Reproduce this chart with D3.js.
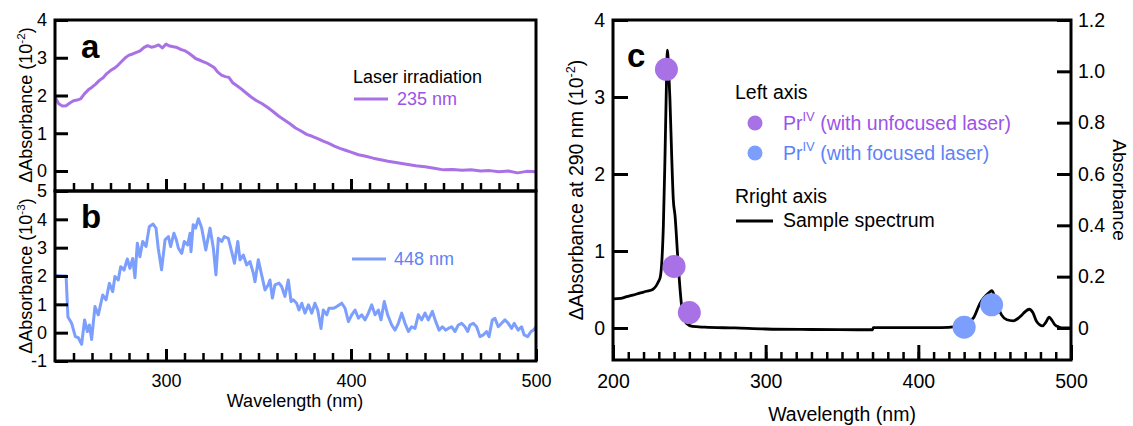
<!DOCTYPE html>
<html>
<head>
<meta charset="utf-8">
<script src="https://cdn.jsdelivr.net/npm/d3@7"></script>
<style>
  body { margin: 0; background: #fff; }
  svg { display: block; font-family: "Liberation Sans", Arial, sans-serif; }
</style>
</head>
<body>
<svg id="chart"></svg>
<script>
// panel a: 235 nm irradiation, ΔAbsorbance in 10^-2
const aWave = [240,242,244,246,248,250,252,254,256,258,260,262,264,266,268,270,272,274,276,278,
  280,282,284,286,288,290,292,294,296,298,300,302,304,306,308,310,312,314,316,318,320,322,324,326,328,
  330,332,334,336,338,340,343,346,349,352,355,358,361,364,367,370,373,376,379,382,385,388,391,394,397,
  400,404,408,412,416,420,425,430,435,440,445,450,455,460,465,470,475,480,485,490,495,500];
const aVal = [1.96,1.78,1.72,1.73,1.80,1.86,1.88,1.92,2.05,2.15,2.22,2.30,2.40,2.47,2.58,2.66,2.72,2.80,2.90,3.00,
  3.07,3.10,3.14,3.18,3.27,3.32,3.28,3.30,3.34,3.26,3.36,3.31,3.29,3.27,3.22,3.19,3.13,3.06,2.98,2.94,2.90,2.86,2.80,2.74,2.62,
  2.54,2.50,2.48,2.34,2.27,2.20,2.08,1.96,1.86,1.78,1.68,1.57,1.45,1.35,1.25,1.14,1.06,0.97,0.92,0.86,0.79,0.73,0.66,0.60,0.55,
  0.50,0.43,0.39,0.34,0.30,0.26,0.22,0.18,0.14,0.11,0.07,0.03,0.04,0.02,0.03,0.00,0.01,-0.02,0.00,-0.05,-0.01,-0.02];

// panel b: 448 nm irradiation, ΔAbsorbance in 10^-3
const bWave = [240,241,244,246,247,249,251,252.6,254.4,256,257.5,258.6,259.8,261.6,263.4,265.8,267.6,269.4,271.2,272.4,
  274.2,275.5,277.3,279.1,280.5,282,283.2,284.5,285.9,287.4,289.2,291,293,294.6,295.8,297.6,299.5,301.3,302.5,304.3,
  305.5,306.7,308.5,309.9,311.7,313,313.5,314.7,316,317.5,319.3,321.5,323.8,325.6,327,328.3,330.1,331.5,333.7,335.5,
  337,338.8,340,341.8,343.6,345.4,347.2,348.1,349.9,351.7,353.5,355.3,356.2,357.5,358.9,361.1,362.5,364.3,366.1,367.6,
  368.8,370.6,371.9,373.4,375.1,377,378.8,380.5,382,383.8,385,386.9,388.1,390.4,392.3,395,396.8,398.6,400.4,402.2,
  404,405.8,407.6,409.4,411.2,413,414.8,416.2,418,419.8,422,423.8,425.6,427.4,429.2,431,432.8,434.6,436.4,438.2,
  440,441.8,444,445.8,447.6,449.4,451.2,452.6,454.4,456.2,458,459.8,461.6,463.1,464.3,466.1,467.9,469.7,471.5,473.3,
  474.6,476.4,477.8,479.6,481.4,483.2,485,486.8,488.2,490.3,492.2,493.6,495.5,497.3,498.6,500];
const bVal = [2.0,2.02,2.0,2.0,0.55,0.33,-0.14,-0.18,-0.41,0.45,0.04,0.27,-0.24,0.92,0.63,1.33,1.16,1.74,1.45,1.98,
  1.86,2.33,2.21,2.6,2.27,2.62,1.94,3.16,2.68,3.22,3.04,3.75,3.83,3.69,2.98,2.22,3.28,3.39,3.04,3.51,
  3.3,2.98,2.8,3.22,3.1,3.51,2.86,3.81,3.69,4.02,3.69,2.92,3.69,2.98,2.04,3.33,3.22,3.39,3.33,2.86,
  2.45,3.22,2.57,2.74,2.39,2.51,2.1,1.8,2.57,2.04,1.51,1.69,1.86,1.22,1.69,1.75,1.63,1.28,1.86,1.1,
  1.16,1.04,0.8,1.04,0.69,0.98,0.69,1.04,0.8,0.15,0.8,0.63,0.86,0.86,0.92,1.04,0.86,0.39,0.63,0.8,
  0.51,0.63,0.45,0.69,0.98,0.63,0.8,0.45,1.1,0.63,0.27,0.09,0.33,0.69,0.33,0.04,0.21,0.15,0.63,0.45,
  0.69,0.45,0.75,0.39,0.09,0.21,0.09,0.15,0.21,0.04,0.27,0.33,0.21,0.04,0.27,0.33,0.21,-0.14,-0.08,0.04,
  -0.14,0.45,0.51,0.21,0.33,0.45,0.33,0.15,0.33,0.09,0.21,-0.08,-0.14,0.04,0.09,0.2];

// panel c: sample spectrum (right axis, absorbance)
const cWave = [200,205,209,213,218,222,226,229.7,231,232,233,234,235,235.6,236.5,237.3,238.5,239.5,240.6,242.8,
  245,248,252,260,280,300,330,360,370,370.5,390,410,420,423,430,436,440.4,443,445.8,448.2,451.3,454.6,458,462.2,
  465,467.7,470,472.7,475,477.5,481.4,483.5,485.7,487.5,489.5,492,495,500];
const cAbs = [0.113,0.115,0.122,0.128,0.137,0.143,0.150,0.180,0.20,0.26,0.40,0.65,0.95,1.083,1.00,0.89,0.66,0.50,0.44,0.24,
  0.084,0.018,0.006,0.003,0.0,-0.004,-0.006,-0.007,-0.007,0.001,0.001,0.001,0.002,0.004,0.015,0.038,0.096,0.118,0.135,0.145,0.096,0.050,0.032,0.028,
  0.036,0.050,0.064,0.073,0.060,0.025,0.008,0.022,0.042,0.030,0.012,0.004,0.0,0.0];

// panel c: ΔAbsorbance at 290 nm (left axis, 10^-2)
const unfocusedWave = [235, 240, 250];
const unfocusedVal = [3.36, 0.80, 0.20];
const focusedWave = [430, 448];
const focusedVal = [0.01, 0.30];

const width = 1133;
const height = 426;
const purple = "#a872e6";
const purpleText = "#9c52e8";
const blue = "#7c9efc";
const blueText = "#5c83f6";

const svg = d3.select("#chart")
    .attr("width", width)
    .attr("height", height)
    .attr("viewBox", [0, 0, width, height]);

const xAB = d3.scaleLinear().domain([240, 500]).range([55, 536]);
const yA = d3.scaleLinear().domain([-0.53, 4]).range([191, 20]);
const yB = d3.scaleLinear().domain([-1, 5]).range([361, 191]);
const xC = d3.scaleLinear().domain([200, 500]).range([613, 1071]);
const yCL = d3.scaleLinear().domain([-0.416, 4]).range([360, 20]);
const yCR = d3.scaleLinear().domain([-0.1248, 1.2]).range([360, 20]);

const styleAxis = (g, size, width) => {
  g.attr("font-family", null).attr("font-size", size);
  g.select(".domain").remove();
  g.selectAll(".tick line").attr("stroke", "#000").attr("stroke-width", width);
  g.selectAll(".tick text").attr("fill", "#000");
};

// ---- curves
const lineA = d3.line().x((d, i) => xAB(aWave[i])).y(d => yA(d));
svg.append("path").datum(aVal)
    .attr("fill", "none").attr("stroke", purple).attr("stroke-width", 3)
    .attr("stroke-linejoin", "round").attr("d", lineA);

const lineB = d3.line().x((d, i) => xAB(bWave[i])).y(d => yB(d));
svg.append("path").datum(bVal)
    .attr("fill", "none").attr("stroke", blue).attr("stroke-width", 3)
    .attr("stroke-linejoin", "round").attr("d", lineB);

const lineC = d3.line().x((d, i) => xC(cWave[i])).y(d => yCR(d)).curve(d3.curveMonotoneX);
svg.append("path").datum(cAbs)
    .attr("fill", "none").attr("stroke", "#000").attr("stroke-width", 2.8)
    .attr("stroke-linejoin", "round").attr("d", lineC);

svg.append("g").selectAll("circle").data(unfocusedVal).join("circle")
    .attr("cx", (d, i) => xC(unfocusedWave[i])).attr("cy", d => yCL(d))
    .attr("r", 11.5).attr("fill", purple);
svg.append("g").selectAll("circle").data(focusedVal).join("circle")
    .attr("cx", (d, i) => xC(focusedWave[i])).attr("cy", d => yCL(d))
    .attr("r", 11.5).attr("fill", blue);

// ---- axes, panel a
svg.append("g").attr("transform", "translate(55,0)")
    .call(d3.axisLeft(yA).tickValues([0, 1, 2, 3, 4]).tickSize(-13).tickPadding(8).tickFormat(String))
    .call(g => styleAxis(g, 18, 3));
svg.append("g").attr("transform", "translate(0,191)")
    .call(d3.axisBottom(xAB).tickValues(d3.range(250, 500, 10)).tickSize(-8).tickFormat(""))
    .call(g => styleAxis(g, 18, 2.5));
svg.append("g").attr("transform", "translate(0,191)")
    .call(d3.axisBottom(xAB).tickValues([300, 400]).tickSize(-12).tickFormat(""))
    .call(g => styleAxis(g, 18, 3));

// ---- axes, panel b
svg.append("g").attr("transform", "translate(55,0)")
    .call(d3.axisLeft(yB).tickValues([-1, 0, 1, 2, 3, 4, 5]).tickSize(-13).tickPadding(8).tickFormat(String))
    .call(g => styleAxis(g, 18, 3));
svg.append("g").attr("transform", "translate(0,361)")
    .call(d3.axisBottom(xAB).tickValues(d3.range(250, 500, 10)).tickSize(-8).tickFormat(""))
    .call(g => styleAxis(g, 18, 2.5));
svg.append("g").attr("transform", "translate(0,361)")
    .call(d3.axisBottom(xAB).tickValues([300, 400, 500]).tickSize(-12).tickPadding(13).tickFormat(String))
    .call(g => styleAxis(g, 18, 3));

// ---- axes, panel c
svg.append("g").attr("transform", "translate(613,0)")
    .call(d3.axisLeft(yCL).tickValues([0, 1, 2, 3, 4]).tickSize(-15).tickPadding(8).tickFormat(String))
    .call(g => styleAxis(g, 19.5, 3));
svg.append("g").attr("transform", "translate(1071,0)")
    .call(d3.axisRight(yCR).tickValues([0, 0.2, 0.4, 0.6, 0.8, 1.0, 1.2]).tickSize(-14).tickPadding(7)
      .tickFormat(d => d === 0 ? "0" : d.toFixed(1)))
    .call(g => styleAxis(g, 19.5, 3));
svg.append("g").attr("transform", "translate(0,360)")
    .call(d3.axisBottom(xC).tickValues(d3.range(210, 500, 10)).tickSize(-8).tickFormat(""))
    .call(g => styleAxis(g, 19.5, 2.5));
svg.append("g").attr("transform", "translate(0,360)")
    .call(d3.axisBottom(xC).tickValues([200, 300, 400, 500]).tickSize(-15).tickPadding(14).tickFormat(String))
    .call(g => styleAxis(g, 19.5, 3));

// ---- frames
const frame = (x0, y0, x1, y1) => svg.append("rect")
    .attr("x", x0).attr("y", y0).attr("width", x1 - x0).attr("height", y1 - y0)
    .attr("fill", "none").attr("stroke", "#000").attr("stroke-width", 3);
frame(55, 20, 536, 191);
frame(55, 191, 536, 361);
frame(613, 20, 1071, 360);

// ---- axis titles
const yTitle = (x, y, size, label, sup, angle) => {
  const t = svg.append("text")
      .attr("transform", `translate(${x},${y}) rotate(${angle})`)
      .attr("text-anchor", "middle").attr("font-size", size).attr("fill", "#000");
  t.append("tspan").text(label);
  if (sup) {
    t.append("tspan").attr("dy", -size * 0.4).attr("font-size", size * 0.65).text(sup);
    t.append("tspan").attr("dy", size * 0.4).text(")");
  }
};
yTitle(32, 105, 18, "\u0394Absorbance (10", "-2", -90);
yTitle(32, 276, 18, "\u0394Absorbance (10", "-3", -90);
yTitle(583, 190, 19.5, "\u0394Absorbance at 290 nm (10", "-2", -90);
yTitle(1113, 190, 19, "Absorbance", null, 90);

svg.append("text").attr("x", 295).attr("y", 407).attr("text-anchor", "middle")
    .attr("font-size", 18).text("Wavelength (nm)");
svg.append("text").attr("x", 842).attr("y", 421).attr("text-anchor", "middle")
    .attr("font-size", 19.5).text("Wavelength (nm)");

// ---- panel letters
[["a", 81, 58], ["b", 81, 228], ["c", 627, 67]].forEach(([s, x, y]) =>
  svg.append("text").attr("x", x).attr("y", y).attr("font-size", 33)
      .attr("font-weight", "bold").text(s));

// ---- legends
svg.append("text").attr("x", 353).attr("y", 83).attr("font-size", 18).text("Laser irradiation");
svg.append("line").attr("x1", 354).attr("x2", 388).attr("y1", 99).attr("y2", 99)
    .attr("stroke", purple).attr("stroke-width", 3);
svg.append("text").attr("x", 397).attr("y", 105).attr("font-size", 18)
    .attr("fill", purpleText).text("235 nm");

svg.append("line").attr("x1", 352).attr("x2", 386).attr("y1", 259).attr("y2", 259)
    .attr("stroke", blue).attr("stroke-width", 3);
svg.append("text").attr("x", 394).attr("y", 265).attr("font-size", 18)
    .attr("fill", blueText).text("448 nm");

svg.append("text").attr("x", 735).attr("y", 99).attr("font-size", 19.5).text("Left axis");
[[123, purple, purpleText, " (with unfocused laser)"], [153, blue, blueText, " (with focused laser)"]]
  .forEach(([y, c, tc, label]) => {
    svg.append("circle").attr("cx", 755).attr("cy", y).attr("r", 7.5).attr("fill", c);
    const t = svg.append("text").attr("x", 783).attr("y", y + 7).attr("font-size", 19.5).attr("fill", tc);
    t.append("tspan").text("Pr");
    t.append("tspan").attr("dy", -9).attr("font-size", 13).text("IV");
    t.append("tspan").attr("dy", 9).text(label);
  });
svg.append("text").attr("x", 735).attr("y", 203).attr("font-size", 19.5).text("Rright axis");
svg.append("line").attr("x1", 736).attr("x2", 773).attr("y1", 221).attr("y2", 221)
    .attr("stroke", "#000").attr("stroke-width", 3);
svg.append("text").attr("x", 783).attr("y", 227).attr("font-size", 19.5).text("Sample spectrum");
</script>
</body>
</html>
